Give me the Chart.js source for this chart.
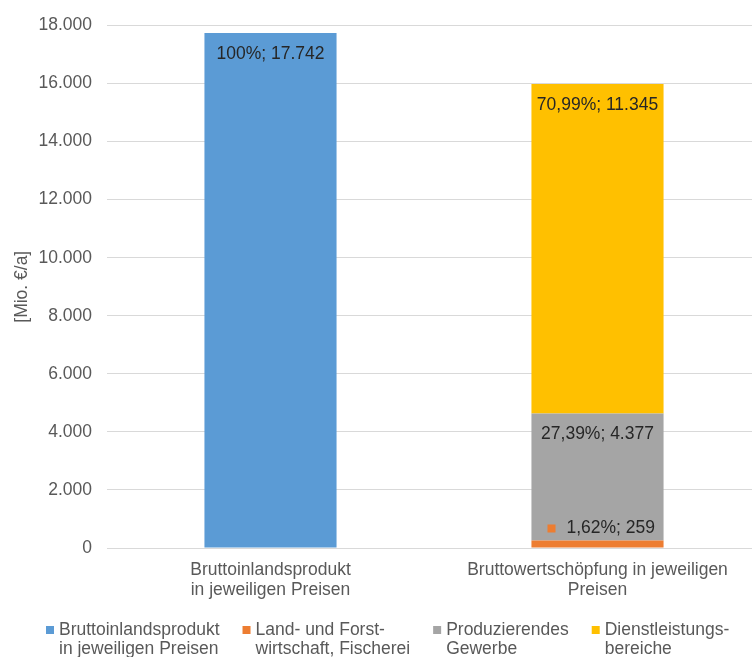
<!DOCTYPE html>
<html>
<head>
<meta charset="utf-8">
<script src="https://cdn.jsdelivr.net/npm/chart.js@4.4.1/dist/chart.umd.min.js"></script>
<style>
  html, body { margin: 0; padding: 0; background: #ffffff; overflow: hidden; }
  #clip { width: 752px; height: 657px; overflow: hidden; position: relative; }
  #wrap { width: 761px; height: 657px; position: relative; }
</style>
</head>
<body>
<div id="clip"><div id="wrap"><canvas id="c"></canvas></div></div>
<script>
// ---- data ----
const categories = [
  ['Bruttoinlandsprodukt', 'in jeweiligen Preisen'],
  ['Bruttowertschöpfung in jeweiligen', 'Preisen']
];
const seriesNames = [
  'Bruttoinlandsprodukt in jeweiligen Preisen',
  'Land- und Forstwirtschaft, Fischerei',
  'Produzierendes Gewerbe',
  'Dienstleistungsbereiche'
];
const legendLabels = [
  ['Bruttoinlandsprodukt', 'in jeweiligen Preisen'],
  ['Land- und Forst-', 'wirtschaft, Fischerei'],
  ['Produzierendes', 'Gewerbe'],
  ['Dienstleistungs-', 'bereiche']
];
const bip          = [17742, null];
const landForst    = [null, 259];
const produzierend = [null, 4377];
const dienstleist  = [null, 11345];
const yTicks = [0, 2000, 4000, 6000, 8000, 10000, 12000, 14000, 16000, 18000];
const yTitle = '[Mio. €/a]';

const colors = ['#5B9BD5', '#ED7D31', '#A5A5A5', '#FFC000'];
const FONT = "'Liberation Sans', Arial, sans-serif";
const FS = 17.5;
const TEXT_GREY = '#595959';
const LABEL_DARK = '#262626';

function fmtDE(v) {
  return String(v).replace(/\B(?=(\d{3})+(?!\d))/g, '.');
}
function pctDE(p) {
  if (Math.abs(p - 100) < 1e-9) return '100%';
  return p.toFixed(2).replace('.', ',') + '%';
}

Chart.defaults.font.family = FONT;
Chart.defaults.font.size = FS;
Chart.defaults.color = TEXT_GREY;

const allSeries = [bip, landForst, produzierend, dienstleist];

const dataLabelPlugin = {
  id: 'dataLabels',
  afterDatasetsDraw(chart) {
    const ctx = chart.ctx;
    const nCat = categories.length;
    const totals = [];
    for (let j = 0; j < nCat; j++) {
      let t = 0;
      allSeries.forEach(s => { if (s[j] != null) t += s[j]; });
      totals.push(t);
    }
    ctx.save();
    ctx.font = FS + 'px ' + FONT;
    ctx.textBaseline = 'middle';
    chart.data.datasets.forEach((ds, i) => {
      const meta = chart.getDatasetMeta(i);
      meta.data.forEach((el, j) => {
        const v = ds.data[j];
        if (v == null) return;
        const text = pctDE(v / totals[j] * 100) + '; ' + fmtDE(v);
        const top = Math.min(el.y, el.base);
        const h = Math.abs(el.base - el.y);
        if (h < 30) {
          const cy = top - 12;
          ctx.fillStyle = ds.backgroundColor;
          ctx.fillRect(el.x - 50, cy - 4, 8, 8);
          ctx.fillStyle = LABEL_DARK;
          ctx.textAlign = 'left';
          ctx.fillText(text, el.x - 31, cy);
        } else {
          ctx.fillStyle = LABEL_DARK;
          ctx.textAlign = 'center';
          ctx.fillText(text, el.x, top + 21);
        }
      });
    });
    ctx.restore();
  }
};

const legendPlugin = {
  id: 'customLegend',
  afterDraw(chart) {
    const ctx = chart.ctx;
    ctx.save();
    ctx.font = FS + 'px ' + FONT;
    ctx.textBaseline = 'middle';
    ctx.textAlign = 'left';
    const box = 8, gapBT = 5, gapItem = 23, lineH = 19;
    const widths = legendLabels.map(lines => Math.max(...lines.map(l => ctx.measureText(l).width)));
    let x = 46;
    const y1 = chart.height - 27;
    legendLabels.forEach((lines, i) => {
      ctx.fillStyle = colors[i];
      ctx.fillRect(x, y1 - box / 2, box, box);
      ctx.fillStyle = TEXT_GREY;
      lines.forEach((l, k) => ctx.fillText(l, x + box + gapBT, y1 + k * lineH));
      x += box + gapBT + widths[i] + gapItem;
    });
    ctx.restore();
  }
};

new Chart(document.getElementById('c'), {
  type: 'bar',
  data: {
    labels: categories,
    datasets: allSeries.map((s, i) => ({
      label: seriesNames[i],
      data: s,
      backgroundColor: colors[i],
      borderWidth: 0,
      categoryPercentage: 1,
      barPercentage: 0.404
    }))
  },
  options: {
    responsive: true,
    maintainAspectRatio: false,
    animation: false,
    layout: { padding: { top: 24, right: 0, bottom: 49, left: 0 } },
    plugins: {
      legend: { display: false },
      tooltip: { enabled: false }
    },
    scales: {
      x: {
        stacked: true,
        grid: { display: false, drawTicks: false },
        border: { display: false },
        ticks: {
          padding: 13,
          color: TEXT_GREY,
          font: { size: FS, lineHeight: 1.1 },
          maxRotation: 0,
          autoSkip: false
        },
        afterFit(scale) { scale.height = 60; }
      },
      y: {
        stacked: true,
        min: 0,
        max: 18000,
        afterBuildTicks(scale) { scale.ticks = yTicks.map(v => ({ value: v })); },
        grid: { color: '#D9D9D9', lineWidth: 1, drawTicks: false },
        border: { display: false },
        ticks: {
          padding: 15,
          color: TEXT_GREY,
          font: { size: FS },
          callback: v => fmtDE(v)
        },
        title: {
          display: true,
          text: yTitle,
          color: TEXT_GREY,
          font: { size: FS },
          padding: { top: 12, bottom: 0 }
        },
        afterFit(scale) { scale.width = 107; }
      }
    }
  },
  plugins: [dataLabelPlugin, legendPlugin]
});
</script>
</body>
</html>
